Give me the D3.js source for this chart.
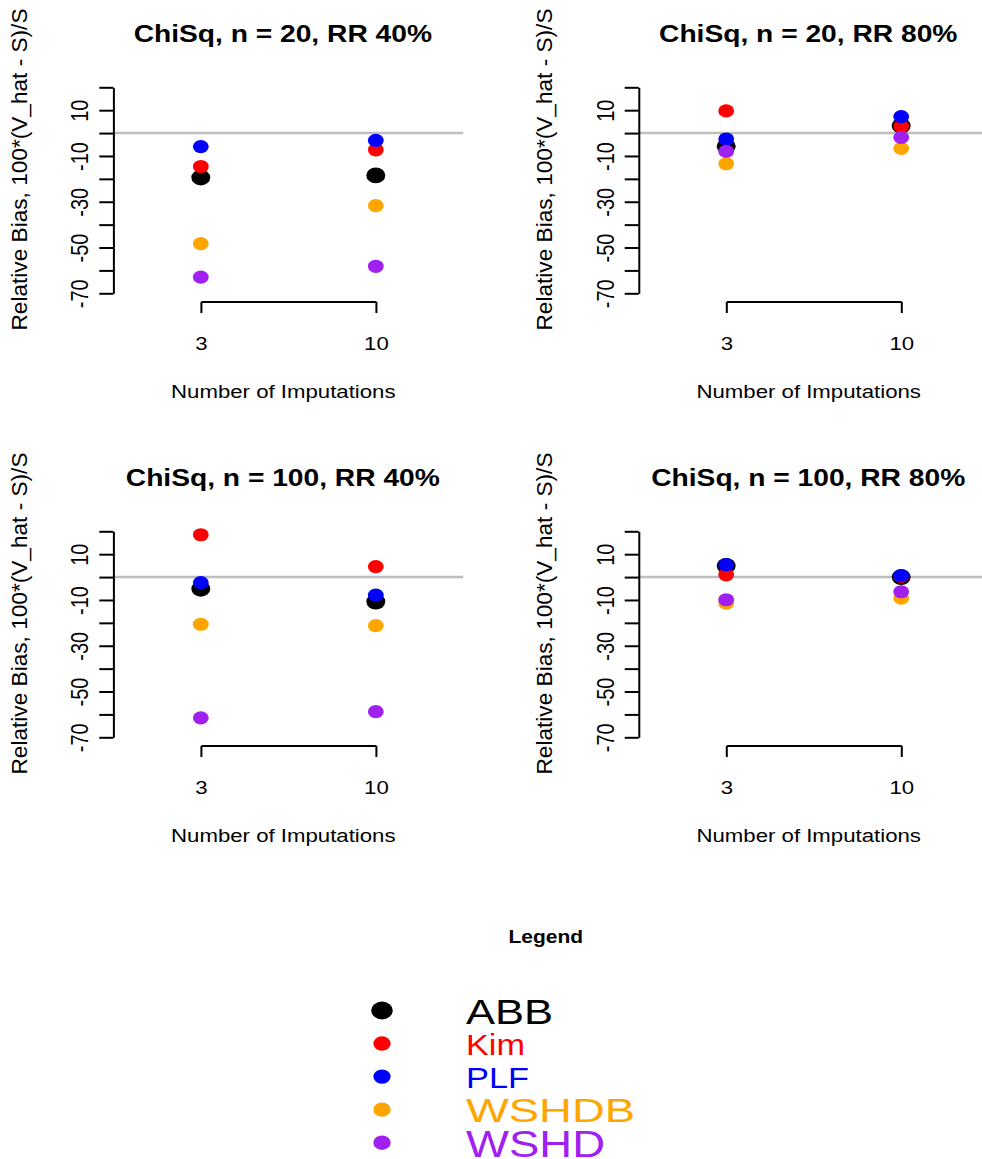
<!DOCTYPE html>
<html>
<head>
<meta charset="utf-8">
<script src="https://cdn.jsdelivr.net/npm/d3@7"></script>
<style>
  body { margin: 0; background: #fff; }
  svg text { font-family: "Liberation Sans", Arial, Helvetica, sans-serif; fill: #000; }
  .ln { vector-effect: non-scaling-stroke; }
</style>
</head>
<body>
<div id="chart"></div>
<script>
// methods and colours (same order they are plotted in)
const methods = ["ABB", "Kim", "PLF", "WSHDB", "WSHD"];
const methodColors = ["#000000", "#FF0000", "#0000FF", "#FFA500", "#A020F0"];
const imputations = ["3", "10"];
const panelTitles = ["ChiSq, n = 20, RR 40%", "ChiSq, n = 20, RR 80%",
                     "ChiSq, n = 100, RR 40%", "ChiSq, n = 100, RR 80%"];

// relative bias per method: [m = 3, m = 10]
const biasN20RR40 = [[-19.4, -18.5], [-14.6, -7.3], [-5.9, -3.2], [-48.3, -31.7], [-62.9, -58.2]];
const biasN20RR80 = [[-5.8, 3.2], [9.7, 2.9], [-2.6, 7.2], [-13.4, -6.7], [-8.0, -1.9]];
const biasN100RR40 = [[-5.1, -10.7], [18.5, 4.6], [-2.4, -7.9], [-20.6, -21.2], [-61.5, -58.8]];
const biasN100RR80 = [[4.9, 0.0], [1.0, 0.3], [5.4, 0.7], [-11.4, -9.2], [-9.9, -6.4]];

const yTicks = [20, 10, 0, -10, -20, -30, -40, -50, -60, -70];
const yTickLabels = [10, -10, -30, -50, -70];

// the picture is stretched sideways, so draw everything in a scaled group
const W = 982, H = 1159, SX = 1.2;
const ux = px => px / SX;

const svg = d3.select("#chart").append("svg")
    .attr("width", W)
    .attr("height", H);
const root = svg.append("g").attr("transform", `scale(${SX},1)`);

const plotW = 350;
const rowGap = 444;
const panels = [
    {title: panelTitles[0], data: biasN20RR40, left: 113.3, top: 0},
    {title: panelTitles[1], data: biasN20RR80, left: 638.7, top: 0},
    {title: panelTitles[2], data: biasN100RR40, left: 113.3, top: rowGap},
    {title: panelTitles[3], data: biasN100RR80, left: 638.7, top: rowGap}
];

panels.forEach(p => {
    const g = root.append("g")
        .attr("transform", `translate(${ux(p.left)},${p.top})`);

    const x = d3.scalePoint()
        .domain(imputations)
        .range([0, ux(plotW)])
        .padding(0.5);
    const y = d3.scaleLinear()
        .domain([-70, 20])
        .range([293.3, 87.3]);

    // zero line
    g.append("line")
        .attr("class", "ln")
        .attr("x1", 0).attr("x2", ux(plotW))
        .attr("y1", y(0)).attr("y2", y(0))
        .attr("stroke", "#BEBEBE")
        .attr("stroke-width", 2.5);

    // y axis
    const ya = g.append("g")
        .call(d3.axisLeft(y)
            .tickValues(yTicks)
            .tickSize(ux(14))
            .tickSizeOuter(0)
            .tickFormat(d => yTickLabels.includes(d) ? d : ""));
    ya.selectAll("path, line")
        .attr("class", "ln")
        .attr("stroke", "#000")
        .attr("stroke-width", 2);
    ya.selectAll("text")
        .attr("x", 0)
        .attr("dy", 0)
        .attr("transform", `translate(${ux(-25)},0) rotate(-90)`)
        .attr("text-anchor", "middle")
        .style("font-size", "20px");

    // x axis, R style bracket between the first and last tick
    const xa = g.append("g")
        .attr("transform", "translate(0,302)")
        .call(d3.axisBottom(x).tickSize(11).tickSizeOuter(0));
    xa.select(".domain").remove();
    xa.append("line")
        .attr("x1", x(imputations[0]) + 0.5)
        .attr("x2", x(imputations[imputations.length - 1]) + 0.5);
    xa.selectAll("line")
        .attr("class", "ln")
        .attr("stroke", "#000")
        .attr("stroke-width", 2);
    xa.selectAll("text")
        .attr("y", 48)
        .attr("dy", 0)
        .style("font-size", "18.5px");

    // points
    methods.forEach((m, mi) => {
        g.append("g").selectAll("circle")
            .data(p.data[mi])
            .join("circle")
            .attr("cx", (d, i) => x(imputations[i]))
            .attr("cy", d => y(d))
            .attr("r", mi === 0 ? 7.9 : 6.6)
            .attr("fill", methodColors[mi]);
    });

    // titles
    g.append("text")
        .attr("x", ux(169.5))
        .attr("y", 42.5)
        .attr("text-anchor", "middle")
        .style("font-weight", "bold")
        .style("font-size", "23.5px")
        .text(p.title);

    g.append("text")
        .attr("x", ux(170))
        .attr("y", 398.3)
        .attr("text-anchor", "middle")
        .style("font-size", "18.5px")
        .text("Number of Imputations");

    g.append("text")
        .attr("transform", `translate(${ux(-86.6)},169.5) rotate(-90)`)
        .attr("text-anchor", "middle")
        .attr("textLength", 322)
        .attr("lengthAdjust", "spacingAndGlyphs")
        .style("font-size", "18px")
        .text("Relative Bias, 100*(V_hat - S)/S");
});

// legend
const legend = root.append("g");
legend.append("text")
    .attr("x", ux(545.8))
    .attr("y", 943.3)
    .attr("text-anchor", "middle")
    .style("font-weight", "bold")
    .style("font-size", "17.5px")
    .text("Legend");

const legendY = d3.scalePoint().domain(methods).range([1010.5, 1142.7]);
const legendFont = [36, 30, 29, 33, 37];
const legendWidth = [87, 59, 63, 169, 139];

legend.selectAll("circle")
    .data(methods)
    .join("circle")
    .attr("cx", ux(382))
    .attr("cy", d => legendY(d))
    .attr("r", (d, i) => i === 0 ? 9 : 7.2)
    .attr("fill", (d, i) => methodColors[i]);

legend.selectAll("text.lab")
    .data(methods)
    .join("text")
    .attr("class", "lab")
    .attr("x", ux(466))
    .attr("y", d => legendY(d))
    .attr("dy", "0.38em")
    .attr("textLength", (d, i) => ux(legendWidth[i]))
    .attr("lengthAdjust", "spacingAndGlyphs")
    .style("font-size", (d, i) => legendFont[i] + "px")
    .style("fill", (d, i) => methodColors[i])
    .text(d => d);
</script>
</body>
</html>
